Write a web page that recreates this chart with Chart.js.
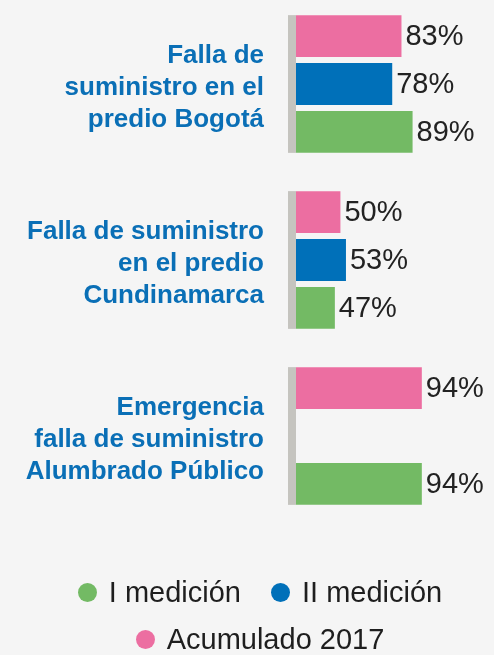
<!DOCTYPE html>
<html lang="es">
<head>
<meta charset="utf-8">
<title>Falla de suministro</title>
<script src="https://cdn.jsdelivr.net/npm/chart.js@4.4.1/dist/chart.umd.min.js"></script>
<style>
  html, body { margin: 0; padding: 0; background: #f5f5f5; }
  .wrap { position: relative; width: 494px; height: 655px; }
  #legend {
    position: absolute; left: 26px; right: 0; top: 569px;
    display: flex; flex-wrap: wrap; justify-content: center; column-gap: 30px;
    font: 29px "Liberation Sans", Arial, sans-serif; color: #1e1e1e;
  }
  #legend .item { display: flex; align-items: center; height: 47px; white-space: nowrap; }
  #legend .dot { width: 19px; height: 19px; border-radius: 50%; margin-right: 12px; }
</style>
</head>
<body>
<div class="wrap">
  <canvas id="chart"></canvas>
  <div id="legend"></div>
</div>
<script>
const categories = [
  ['Falla de', 'suministro en el', 'predio Bogotá'],
  ['Falla de suministro', 'en el predio', 'Cundinamarca'],
  ['Emergencia', 'falla de suministro', 'Alumbrado Público']
];
const acumulado2017 = [83, 50, 94];
const medicion2 = [78, 53, null];
const medicion1 = [89, 47, 94];

// value axis window (percent)
const axisMin = 26;
const axisMax = 133;

const PINK = '#ec6ea1';
const BLUE = '#0070b9';
const GREEN = '#73ba64';
const FONT = '"Liberation Sans", Arial, sans-serif';

// grey stub on the left of each group of bars
const groupStub = {
  id: 'groupStub',
  beforeDatasetsDraw(chart) {
    const ctx = chart.ctx;
    const left = chart.chartArea.left;
    ctx.save();
    ctx.fillStyle = '#c5c4bf';
    categories.forEach((c, i) => {
      let top = Infinity, bottom = -Infinity;
      chart.data.datasets.forEach((ds, d) => {
        if (ds.data[i] == null) return;
        const bar = chart.getDatasetMeta(d).data[i];
        top = Math.min(top, bar.y - bar.height / 2);
        bottom = Math.max(bottom, bar.y + bar.height / 2);
      });
      ctx.fillRect(left - 8, top, 8, bottom - top);
    });
    ctx.restore();
  }
};

// percentage written after each bar
const valueLabels = {
  id: 'valueLabels',
  afterDatasetsDraw(chart) {
    const ctx = chart.ctx;
    ctx.save();
    ctx.font = '29px ' + FONT;
    ctx.fillStyle = '#222';
    ctx.textBaseline = 'middle';
    chart.data.datasets.forEach((ds, d) => {
      chart.getDatasetMeta(d).data.forEach((bar, i) => {
        if (ds.data[i] == null) return;
        ctx.fillText(ds.data[i] + '%', bar.x + 4, bar.y + 1);
      });
    });
    ctx.restore();
  }
};

// legend built as html so it can wrap on two centred rows
const htmlLegend = {
  id: 'htmlLegend',
  afterUpdate(chart) {
    const box = document.getElementById('legend');
    box.innerHTML = '';
    const items = chart.options.plugins.legend.labels.generateLabels(chart).reverse();
    items.forEach(item => {
      const el = document.createElement('span');
      el.className = 'item';
      const dot = document.createElement('span');
      dot.className = 'dot';
      dot.style.background = item.fillStyle;
      el.appendChild(dot);
      el.appendChild(document.createTextNode(item.text));
      box.appendChild(el);
    });
  }
};

new Chart(document.getElementById('chart'), {
  type: 'bar',
  data: {
    labels: categories,
    datasets: [
      { label: 'Acumulado 2017', data: acumulado2017, backgroundColor: PINK },
      { label: 'II medición', data: medicion2, backgroundColor: BLUE },
      { label: 'I medición', data: medicion1, backgroundColor: GREEN }
    ]
  },
  options: {
    indexAxis: 'y',
    responsive: true,
    maintainAspectRatio: false,
    animation: false,
    datasets: {
      bar: {
        base: axisMin,
        categoryPercentage: 0.818,
        barPercentage: 0.87,
        borderWidth: 0,
        clip: false
      }
    },
    layout: { padding: { top: 84, bottom: 219, left: 0, right: 0 } },
    scales: {
      x: { display: false, min: axisMin, max: axisMax },
      y: {
        offset: false,
        grid: { display: false, drawTicks: false },
        border: { display: false },
        ticks: {
          autoSkip: false,
          padding: 32,
          labelOffset: 4,
          color: '#0a6fb6',
          font: { family: FONT, size: 26, weight: 'bold', lineHeight: 1.23 }
        },
        afterFit(scale) { scale.width = 296; }
      }
    },
    plugins: {
      legend: { display: false },
      tooltip: { enabled: false }
    }
  },
  plugins: [groupStub, valueLabels, htmlLegend]
});
</script>
</body>
</html>
